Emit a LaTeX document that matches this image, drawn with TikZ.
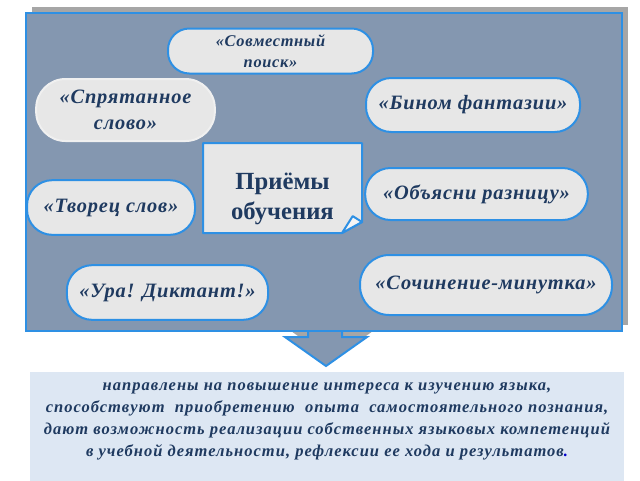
\documentclass[tikz,border=0pt]{standalone}
\usepackage{fontspec}
\setmainfont{Liberation Serif}
\newfontfamily\ovalfont[LetterSpace=4]{Liberation Serif}
\newfontfamily\resfont[LetterSpace=6]{Liberation Serif}
\usepackage{xcolor}
\definecolor{Col1}{RGB}{132,151,176}
\definecolor{Col2}{RGB}{46,144,228}
\definecolor{Col3}{RGB}{231,231,231}
\definecolor{Col4}{RGB}{31,58,96}
\definecolor{Col5}{RGB}{166,166,166}
\definecolor{Col6}{RGB}{221,231,243}
\usepackage{tikz}
\usetikzlibrary{calc}
\tikzstyle{Panel}=[rectangle,draw=Col2,fill=Col1,line width=1.5pt,inner sep=0pt]
\tikzstyle{Shadow}=[rectangle,fill=Col5,inner sep=0pt]
\tikzstyle{Oval}=[rectangle,rounded corners=19pt,draw=Col2,fill=Col3,
line width=1.5pt,align=center,text=Col4,inner sep=2pt,
font=\ovalfont\fontsize{15.3}{17}\selectfont\bfseries\itshape]
\tikzstyle{Note}=[draw=Col2,fill=Col3,line width=1.5pt,line join=round]
\tikzstyle{NoteText}=[align=center,text=Col4,inner sep=0pt,
font=\fontsize{18.5}{22.5}\selectfont\bfseries]
\tikzstyle{Down}=[draw=Col2,fill=Col1,line width=1.5pt,line join=miter]
\tikzstyle{Result}=[rectangle,fill=Col6,inner sep=0pt]
\tikzstyle{ResultText}=[align=center,text=Col4,inner sep=0pt,
font=\resfont\fontsize{12.4}{16.5}\selectfont\bfseries\itshape]

\begin{document}
\begin{tikzpicture}[x=0.75pt,y=-0.75pt]
    \useasboundingbox(0,0)rectangle(640,480);
    % panel with its shadow
    \node[Shadow,minimum width=447pt,minimum height=238.5pt](shade)at(330,166){};
    \fill[Col5](314,294)--(314,331)--(291,331)--(332,360)--(373,331)--(348,331)--(348,294)--cycle;
    \draw[Down](308,300)--(308,337)--(285,337)--(326,366)--(367,337)--(342,337)--(342,300);
    \node[Panel,minimum width=447pt,minimum height=238.5pt](panel)at(324,172){};
    % centre note
    \draw[Note](203,143)--(362,143)--(362,222)--(342,233)--(203,233)--cycle;
    \draw[Note,fill=white!60!Col3](342,233)--(362,222)--(352.7,216.1)--cycle;
    \node[NoteText](centre)at(282.5,199){Приёмы\\обучения};
    % methods
    \node[Oval,rounded corners=16pt,minimum width=153.75pt,minimum height=33.75pt,
        font=\ovalfont\fontsize{12.3}{15.5}\selectfont\bfseries\itshape]
        (joint)at(270.5,51){«Совместный\\поиск»};
    \node[Oval,draw=white!94!black,minimum width=134pt,minimum height=46.5pt,
        rounded corners=22pt,font=\ovalfont\fontsize{15.3}{19.5}\selectfont\bfseries\itshape]
        (hidden)at(125.5,110){«Спрятанное\\слово»};
    \node[Oval,minimum width=160.5pt,minimum height=40.5pt](binom)at(473,105)
        {«Бином фантазии»};
    \node[Oval,minimum width=126pt,minimum height=41pt](creator)at(111,207.5)
        {«Творец слов»};
    \node[Oval,minimum width=167pt,minimum height=39pt](explain)at(476.5,194)
        {«Объясни разницу»};
    \node[Oval,minimum width=151pt,minimum height=41pt](hurrah)at(167.5,292.5)
        {«Ура! Диктант!»};
    \node[Oval,minimum width=189pt,minimum height=45pt,rounded corners=22pt]
        (essay)at(486,285){«Сочинение-минутка»};
    % result
    \node[Result,minimum width=445.5pt,minimum height=84pt](result)at(327,428){};
    \node[ResultText](restext)at(327,421){направлены на повышение интереса к изучению языка,\\
        способствуют\ \ приобретению\ \ опыта\ \ самостоятельного познания,\\
        дают возможность реализации собственных языковых компетенций\\
        в учебной деятельности, рефлексии ее хода и результатов\textcolor{blue!80!black}{.}};
\end{tikzpicture}
\end{document}
